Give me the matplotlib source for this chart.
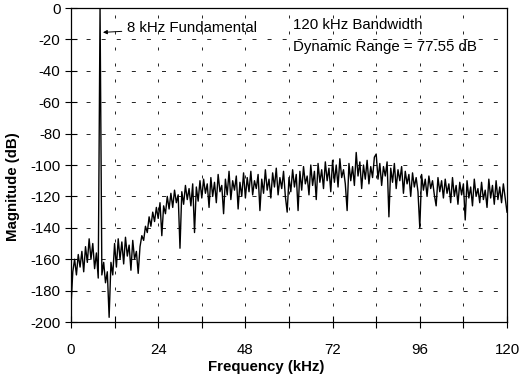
import numpy as np
import matplotlib
matplotlib.use('Agg')
import matplotlib.pyplot as plt
from matplotlib.ticker import MultipleLocator

plt.rcParams['font.family'] = ['Liberation Sans', 'DejaVu Sans']
plt.rcParams['axes.unicode_minus'] = False

# spectrum, one value every 0.5 kHz (dB)
freq_step = 0.5
magnitude_db = [
    # 0 - 11.5 kHz
    -190, -168, -160, -170, -157, -165, -155, -168, -152, -162, -147, -160,
    -150, -166, -156, -172, 0, -170, -162, -175, -168, -197, -162, -170,
    # 12 - 23.5 kHz
    -150, -165, -147, -160, -149, -163, -146, -158, -151, -167, -148, -160,
    -155, -169, -152, -145, -148, -139, -143, -133, -139, -130, -136, -127,
    # 24 - 35.5 kHz
    -134, -124, -145, -126, -131, -120, -128, -118, -127, -116, -124, -119,
    -153, -117, -125, -113, -122, -115, -126, -112, -143, -114, -123, -110,
    # 36 - 47.5 kHz
    -121, -109, -118, -112, -127, -108, -120, -111, -124, -106, -117, -113,
    -131, -109, -119, -104, -122, -110, -116, -107, -128, -111, -120, -105,
    # 48 - 59.5 kHz
    -121, -108, -117, -104, -119, -110, -115, -106, -129, -109, -118, -103,
    -116, -109, -121, -105, -114, -102, -119, -108, -115, -104, -120, -130,
    # 60 - 71.5 kHz
    -108, -117, -103, -114, -106, -129, -104, -116, -101, -112, -107, -119,
    -100, -113, -104, -122, -99, -111, -103, -115, -98, -110, -102, -117,
    # 72 - 83.5 kHz
    -97, -111, -100, -114, -96, -108, -103, -112, -129, -99, -110, -101,
    -113, -92, -107, -98, -115, -100, -109, -97, -112, -101, -108, -95,
    # 84 - 95.5 kHz
    -93, -109, -99, -113, -101, -107, -98, -133, -102, -111, -99, -115,
    -103, -110, -101, -118, -104, -112, -106, -120, -105, -114, -108, -117,
    # 96 - 107.5 kHz
    -140, -106, -116, -109, -120, -107, -115, -110, -119, -126, -108, -117,
    -110, -121, -109, -118, -112, -124, -108, -120, -113, -125, -111, -119,
    # 108 - 120 kHz
    -112, -135, -110, -121, -114, -126, -109, -120, -115, -124, -111, -122,
    -116, -127, -109, -121, -113, -125, -110, -122, -114, -124, -112, -121,
    -130,
]
freq_khz = np.arange(len(magnitude_db)) * freq_step

fig = plt.figure(figsize=(5.2, 3.82), dpi=100)
ax = fig.add_axes([0.1365, 0.157, 0.8385, 0.822])

ax.plot(freq_khz, magnitude_db, color='black', linewidth=1.0)

ax.set_xlim(0, 120)
ax.set_ylim(-200, 0)
ax.xaxis.set_major_locator(MultipleLocator(24))
ax.xaxis.set_minor_locator(MultipleLocator(12))
ax.yaxis.set_major_locator(MultipleLocator(20))

ax.grid(True, which='both', axis='x', color='black', linewidth=0.6,
        linestyle=(0, (3.6, 15.6)))
ax.grid(True, which='major', axis='y', color='black', linewidth=0.6,
        linestyle=(0, (4.8, 13.3)))

ax.tick_params(axis='both', which='both', direction='inout', length=8,
               width=0.8, labelsize=10.8)
ax.tick_params(axis='x', which='major', pad=11)
for s in ax.spines.values():
    s.set_linewidth(0.9)

ax.set_xlabel('Frequency (kHz)', fontsize=10.8, fontweight='bold')
ax.set_ylabel('Magnitude (dB)', fontsize=10.8, fontweight='bold')
ax.xaxis.set_label_coords(0.447, -0.121)
ax.yaxis.set_label_coords(-0.117, 0.43)

ax.annotate('8 kHz Fundamental', xy=(8.8, -15.5), xytext=(15.5, -12.5),
            fontsize=10.8, va='center', ha='left',
            arrowprops=dict(arrowstyle='-|>', color='black', lw=0.7,
                            mutation_scale=6, shrinkA=2, shrinkB=0))
ax.text(61, -11, '120 kHz Bandwidth', fontsize=10.8, va='center')
ax.text(61, -25, 'Dynamic Range = 77.55 dB', fontsize=10.8, va='center')

fig.savefig('out.png', dpi=100)
